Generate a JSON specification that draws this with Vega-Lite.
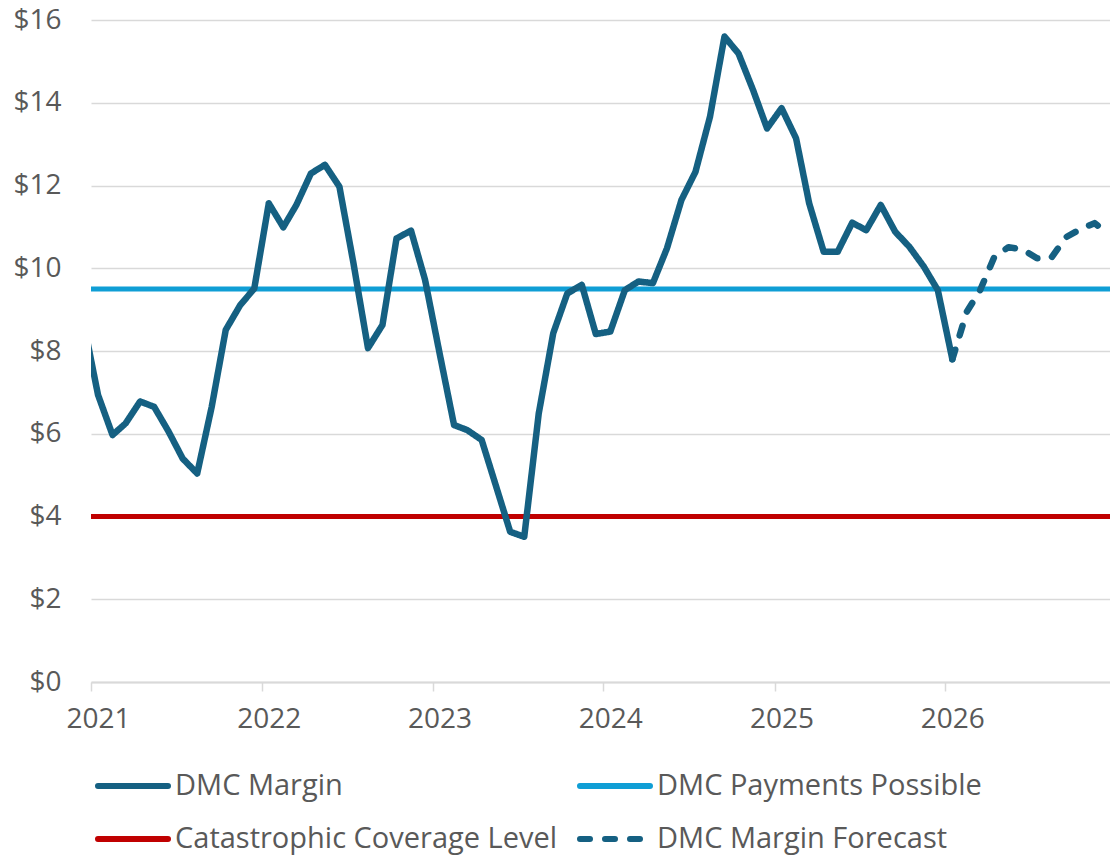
{
  "$schema": "https://vega.github.io/schema/vega-lite/v6.json",
  "width": 1019,
  "height": 662,
  "autosize": {"type": "none"},
  "padding": {"left": 91, "top": 20, "right": 0, "bottom": 174},
  "background": "white",
  "config": {
    "view": {"stroke": null},
    "font": "Open Sans",
    "legend": {
      "labelFont": "Open Sans",
      "labelFontSize": 29,
      "labelColor": "#595959",
      "symbolType": "stroke",
      "symbolSize": 4900,
      "symbolStrokeWidth": 6,
      "labelOffset": 4,
      "rowPadding": -15,
      "columnPadding": 10,
      "padding": 0,
      "labelLimit": 600,
      "direction": "horizontal"
    }
  },
  "datasets": {
    "margin": [
      {"date": "2020-12-16", "value": 8.7, "series": "DMC Margin"},
      {"date": "2021-01-16", "value": 6.94, "series": "DMC Margin"},
      {"date": "2021-02-16", "value": 5.97, "series": "DMC Margin"},
      {"date": "2021-03-16", "value": 6.25, "series": "DMC Margin"},
      {"date": "2021-04-16", "value": 6.78, "series": "DMC Margin"},
      {"date": "2021-05-16", "value": 6.65, "series": "DMC Margin"},
      {"date": "2021-06-16", "value": 6.05, "series": "DMC Margin"},
      {"date": "2021-07-16", "value": 5.40, "series": "DMC Margin"},
      {"date": "2021-08-16", "value": 5.04, "series": "DMC Margin"},
      {"date": "2021-09-16", "value": 6.65, "series": "DMC Margin"},
      {"date": "2021-10-16", "value": 8.51, "series": "DMC Margin"},
      {"date": "2021-11-16", "value": 9.11, "series": "DMC Margin"},
      {"date": "2021-12-16", "value": 9.51, "series": "DMC Margin"},
      {"date": "2022-01-16", "value": 11.57, "series": "DMC Margin"},
      {"date": "2022-02-16", "value": 10.99, "series": "DMC Margin"},
      {"date": "2022-03-16", "value": 11.53, "series": "DMC Margin"},
      {"date": "2022-04-16", "value": 12.29, "series": "DMC Margin"},
      {"date": "2022-05-16", "value": 12.50, "series": "DMC Margin"},
      {"date": "2022-06-16", "value": 11.97, "series": "DMC Margin"},
      {"date": "2022-07-16", "value": 10.12, "series": "DMC Margin"},
      {"date": "2022-08-16", "value": 8.07, "series": "DMC Margin"},
      {"date": "2022-09-16", "value": 8.63, "series": "DMC Margin"},
      {"date": "2022-10-16", "value": 10.72, "series": "DMC Margin"},
      {"date": "2022-11-16", "value": 10.91, "series": "DMC Margin"},
      {"date": "2022-12-16", "value": 9.72, "series": "DMC Margin"},
      {"date": "2023-01-16", "value": 7.95, "series": "DMC Margin"},
      {"date": "2023-02-16", "value": 6.21, "series": "DMC Margin"},
      {"date": "2023-03-16", "value": 6.09, "series": "DMC Margin"},
      {"date": "2023-04-16", "value": 5.85, "series": "DMC Margin"},
      {"date": "2023-05-16", "value": 4.76, "series": "DMC Margin"},
      {"date": "2023-06-16", "value": 3.63, "series": "DMC Margin"},
      {"date": "2023-07-16", "value": 3.51, "series": "DMC Margin"},
      {"date": "2023-08-16", "value": 6.49, "series": "DMC Margin"},
      {"date": "2023-09-16", "value": 8.43, "series": "DMC Margin"},
      {"date": "2023-10-16", "value": 9.39, "series": "DMC Margin"},
      {"date": "2023-11-16", "value": 9.60, "series": "DMC Margin"},
      {"date": "2023-12-16", "value": 8.41, "series": "DMC Margin"},
      {"date": "2024-01-16", "value": 8.47, "series": "DMC Margin"},
      {"date": "2024-02-16", "value": 9.47, "series": "DMC Margin"},
      {"date": "2024-03-16", "value": 9.68, "series": "DMC Margin"},
      {"date": "2024-04-16", "value": 9.64, "series": "DMC Margin"},
      {"date": "2024-05-16", "value": 10.48, "series": "DMC Margin"},
      {"date": "2024-06-16", "value": 11.65, "series": "DMC Margin"},
      {"date": "2024-07-16", "value": 12.33, "series": "DMC Margin"},
      {"date": "2024-08-16", "value": 13.66, "series": "DMC Margin"},
      {"date": "2024-09-16", "value": 15.60, "series": "DMC Margin"},
      {"date": "2024-10-16", "value": 15.19, "series": "DMC Margin"},
      {"date": "2024-11-16", "value": 14.31, "series": "DMC Margin"},
      {"date": "2024-12-16", "value": 13.38, "series": "DMC Margin"},
      {"date": "2025-01-16", "value": 13.87, "series": "DMC Margin"},
      {"date": "2025-02-16", "value": 13.14, "series": "DMC Margin"},
      {"date": "2025-03-16", "value": 11.57, "series": "DMC Margin"},
      {"date": "2025-04-16", "value": 10.40, "series": "DMC Margin"},
      {"date": "2025-05-16", "value": 10.40, "series": "DMC Margin"},
      {"date": "2025-06-16", "value": 11.10, "series": "DMC Margin"},
      {"date": "2025-07-16", "value": 10.92, "series": "DMC Margin"},
      {"date": "2025-08-16", "value": 11.53, "series": "DMC Margin"},
      {"date": "2025-09-16", "value": 10.88, "series": "DMC Margin"},
      {"date": "2025-10-16", "value": 10.52, "series": "DMC Margin"},
      {"date": "2025-11-16", "value": 10.04, "series": "DMC Margin"},
      {"date": "2025-12-16", "value": 9.47, "series": "DMC Margin"},
      {"date": "2026-01-16", "value": 7.80, "series": "DMC Margin"},
      {"date": "2026-01-16", "value": 7.80, "series": "DMC Margin Forecast"},
      {"date": "2026-02-16", "value": 8.95, "series": "DMC Margin Forecast"},
      {"date": "2026-03-16", "value": 9.46, "series": "DMC Margin Forecast"},
      {"date": "2026-04-16", "value": 10.28, "series": "DMC Margin Forecast"},
      {"date": "2026-05-16", "value": 10.51, "series": "DMC Margin Forecast"},
      {"date": "2026-06-16", "value": 10.45, "series": "DMC Margin Forecast"},
      {"date": "2026-07-16", "value": 10.24, "series": "DMC Margin Forecast"},
      {"date": "2026-08-16", "value": 10.26, "series": "DMC Margin Forecast"},
      {"date": "2026-09-16", "value": 10.75, "series": "DMC Margin Forecast"},
      {"date": "2026-10-16", "value": 10.94, "series": "DMC Margin Forecast"},
      {"date": "2026-11-16", "value": 11.09, "series": "DMC Margin Forecast"},
      {"date": "2026-12-16", "value": 10.83, "series": "DMC Margin Forecast"}
    ],
    "levels": [
      {"series": "DMC Payments Possible", "level": 9.5},
      {"series": "Catastrophic Coverage Level", "level": 4.0}
    ]
  },
  "layer": [
    {
      "data": {"name": "levels"},
      "mark": {"type": "rule", "strokeWidth": 5},
      "encoding": {
        "y": {
          "field": "level",
          "type": "quantitative",
          "scale": {"domain": [0, 16], "nice": false, "zero": true}
        },
        "color": {
          "field": "series",
          "type": "nominal",
          "scale": {
            "domain": ["DMC Margin", "DMC Payments Possible", "Catastrophic Coverage Level", "DMC Margin Forecast"],
            "range": ["#156082", "#0F9ED5", "#C00000", "#156082"]
          },
          "legend": {
            "title": null,
            "orient": "none",
            "legendX": 4,
            "legendY": 728,
            "columns": 2,
            "direction": "horizontal",
            "symbolType": "stroke",
            "encode": {"symbols": {"update": {"strokeCap": {"value": "round"}}}}
          }
        }
      }
    },
    {
      "data": {"name": "margin"},
      "mark": {"type": "line", "strokeWidth": 6.5, "clip": true, "strokeCap": "round", "strokeJoin": "round"},
      "encoding": {
        "x": {
          "field": "date",
          "type": "temporal",
          "scale": {"type": "utc", "domain": [1609459200000, 1797638400000]},
          "axis": {
            "title": null,
            "grid": false,
            "domain": true,
            "domainColor": "#d9d9d9",
            "domainWidth": 2,
            "ticks": true,
            "tickColor": "#d9d9d9",
            "tickSize": 9,
            "tickWidth": 1.5,
            "values": [1609459200000, 1640995200000, 1672531200000, 1704067200000, 1735689600000, 1767225600000],
            "labelExpr": "utcFormat(datum.value, '%Y')",
            "labelFont": "Open Sans",
            "labelFontSize": 28,
            "labelColor": "#595959",
            "labelPadding": 14,
            "labelOffset": 7,
            "labelFlush": false,
            "labelOverlap": false
          }
        },
        "y": {
          "field": "value",
          "type": "quantitative",
          "scale": {"domain": [0, 16], "nice": false, "zero": true},
          "axis": {
            "title": null,
            "values": [0, 2, 4, 6, 8, 10, 12, 14, 16],
            "labelExpr": "'$' + datum.value",
            "grid": true,
            "gridColor": "#d9d9d9",
            "gridWidth": 1.5,
            "domain": false,
            "ticks": false,
            "labelFont": "Open Sans",
            "labelFontSize": 28,
            "labelColor": "#595959",
            "labelPadding": 30
          }
        },
        "color": {
          "field": "series",
          "type": "nominal",
          "scale": {
            "domain": ["DMC Margin", "DMC Payments Possible", "Catastrophic Coverage Level", "DMC Margin Forecast"],
            "range": ["#156082", "#0F9ED5", "#C00000", "#156082"]
          },
          "legend": {
            "title": null,
            "orient": "none",
            "legendX": 4,
            "legendY": 728,
            "columns": 2,
            "direction": "horizontal",
            "symbolType": "stroke",
            "encode": {"symbols": {"update": {"strokeCap": {"value": "round"}}}}
          }
        },
        "strokeDash": {
          "field": "series",
          "type": "nominal",
          "scale": {
            "domain": ["DMC Margin", "DMC Payments Possible", "Catastrophic Coverage Level", "DMC Margin Forecast"],
            "range": [[1, 0], [1, 0], [1, 0], [10, 15]]
          },
          "legend": {
            "title": null,
            "orient": "none",
            "legendX": 4,
            "legendY": 728,
            "columns": 2,
            "direction": "horizontal",
            "symbolType": "stroke",
            "encode": {"symbols": {"update": {"strokeCap": {"value": "round"}}}}
          }
        }
      }
    }
  ]
}
